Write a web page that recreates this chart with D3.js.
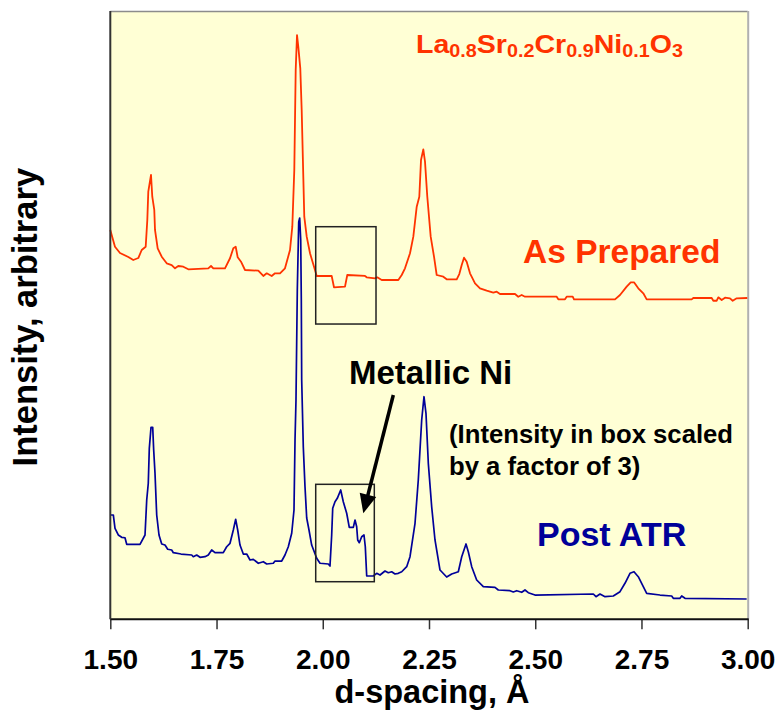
<!DOCTYPE html>
<html><head><meta charset="utf-8">
<script src="https://cdn.jsdelivr.net/npm/d3@7"></script>
<style>body{margin:0;background:#fff}svg{display:block}text{font-family:"Liberation Sans",Arial,sans-serif;font-weight:bold}</style>
</head><body>
<svg id="c" width="778" height="717"></svg>
<script>
// d-spacing (Å) and intensity (arbitrary) for the "As Prepared" pattern (offset upward)
const redD = [1.500,1.511,1.5228,1.5424,1.5541,1.5659,1.5739,1.5833,1.5871,1.5894,1.5958,1.5988,1.6035,1.6052,1.6115,1.6210,1.6327,1.6445,1.6523,1.6600,1.6718,1.6836,1.7306,1.7370,1.7424,1.7699,1.7817,1.7895,1.7951,1.7998,1.8076,1.8170,1.8483,1.8601,1.8681,1.8798,1.8876,1.8994,1.9111,1.9229,1.9283,1.9330,1.9363,1.9394,1.9424,1.9471,1.9504,1.9542,1.9565,1.9622,1.9700,1.9817,1.9857,2.0210,2.0264,2.0523,2.0577,2.0994,2.1034,2.1229,2.1283,2.1387,2.1778,2.1858,2.1935,2.2053,2.2131,2.2211,2.2272,2.2312,2.2366,2.2406,2.2460,2.2540,2.2618,2.2681,2.2837,2.2916,2.3152,2.3213,2.3270,2.3324,2.3387,2.3465,2.3583,2.3700,2.3858,2.4013,2.4093,2.4171,2.4524,2.4601,2.4681,2.4759,2.5505,2.5543,2.5700,2.5740,2.5882,2.5912,2.6877,2.6995,2.7152,2.7247,2.7324,2.7425,2.7543,2.7623,2.8682,2.8720,2.9153,2.9191,2.9271,2.9308,2.9388,2.9466,2.9583,2.9647,2.9741,2.9990];
const redI = [64.0,61.25,60.22,59.56,59.07,59.39,60.71,61.25,65.64,70.29,73.04,69.47,67.29,64.0,60.99,59.61,58.52,58.24,57.70,58.08,57.96,57.54,57.70,58.08,57.70,57.70,59.35,60.99,61.25,59.51,58.79,57.42,57.31,56.44,56.88,56.44,56.88,56.88,57.70,60.71,64.54,73.86,90.30,96.05,94.13,90.58,83.72,72.76,66.18,62.90,60.17,57.42,56.44,56.44,54.58,54.68,56.60,56.44,56.22,56.06,56.22,55.78,55.78,56.60,57.70,60.17,62.90,67.83,69.47,75.51,77.26,75.23,69.47,62.90,59.61,56.60,56.32,55.89,55.89,56.76,58.24,59.44,58.79,56.88,55.23,54.41,54.02,53.69,53.85,53.48,53.48,53.03,53.31,53.03,53.03,52.60,52.60,53.03,53.03,52.60,52.60,53.31,54.68,55.40,55.40,54.41,53.59,52.60,52.60,52.82,52.82,52.37,52.37,52.93,52.49,52.87,52.77,52.37,52.77,52.82];
// "Post ATR" pattern (box region 1.98-2.12 Å shown x3)
const blueD = [1.5016,1.5071,1.5111,1.5188,1.5268,1.5346,1.5386,1.5699,1.5817,1.5857,1.5894,1.5918,1.5958,1.5998,1.6021,1.6052,1.6092,1.6146,1.6210,1.6287,1.6351,1.6445,1.6483,1.6664,1.6916,1.6953,1.7033,1.7111,1.7229,1.7306,1.7386,1.7464,1.7659,1.7739,1.7817,1.7895,1.7951,1.7998,1.8052,1.8130,1.8210,1.8288,1.8365,1.8483,1.8601,1.8681,1.8836,1.8876,1.9034,1.9111,1.9189,1.9269,1.9323,1.9347,1.9370,1.9401,1.9434,1.9457,1.9481,1.9495,1.9504,1.9542,1.9582,1.9622,1.9676,1.9739,1.9857,1.9935,2.0130,2.0170,2.0210,2.0234,2.0288,2.0342,2.0422,2.0483,2.0563,2.0624,2.0719,2.0759,2.0798,2.0822,2.0860,2.0916,2.0970,2.1001,2.1034,2.1189,2.1269,2.1347,2.1465,2.1542,2.1622,2.1700,2.1778,2.1858,2.1975,2.2053,2.2171,2.2248,2.2328,2.2382,2.2429,2.2484,2.2563,2.2641,2.2759,2.2916,2.3034,2.3190,2.3270,2.3371,2.3425,2.3505,2.3622,2.3778,2.4053,2.4131,2.4406,2.4484,2.4564,2.4682,2.4759,2.4837,2.4994,2.6367,2.6430,2.6524,2.6642,2.6837,2.6995,2.7112,2.7230,2.7324,2.7425,2.7543,2.7623,2.7936,2.8211,2.8249,2.8407,2.8447,2.8524,2.9976];
const blueI = [17.15,17.15,14.96,13.86,13.48,13.41,12.33,12.33,13.86,19.61,22.36,28.11,31.56,31.56,27.83,24.0,17.15,13.86,12.38,12.21,11.51,11.39,10.95,10.73,10.57,10.29,10.57,10.19,10.29,10.57,11.39,10.95,10.95,11.93,12.49,14.68,16.44,14.68,12.21,10.73,10.73,9.75,9.86,9.21,9.47,9.09,9.21,9.58,9.58,10.57,11.93,14.14,17.97,29.48,36.05,54.13,65.31,65.97,62.35,52.49,39.34,28.32,21.80,16.65,14.68,12.21,10.03,9.21,9.09,8.76,13.86,18.25,19.33,19.89,21.26,19.33,17.43,15.12,15.12,16.32,15.22,13.04,12.59,13.58,13.86,11.93,7.12,7.12,7.56,7.28,7.94,7.66,7.82,7.45,7.56,7.82,8.65,10.29,15.78,22.90,32.76,36.59,33.86,25.64,18.51,13.04,8.10,6.95,7.45,7.82,10.29,12.38,11.11,8.65,6.46,5.36,5.26,4.82,4.70,4.49,4.70,4.44,4.82,4.37,3.99,4.16,3.72,4.16,3.72,3.83,4.54,5.92,7.56,7.82,7.00,5.36,4.27,3.99,3.83,3.45,3.45,3.83,3.45,3.34];
// scaled-region boxes [d0, d1, I0, I1]
const boxPrepared = [1.9834, 2.1253, 48.54, 64.54];
const boxPost = [1.9834, 2.1213, 6.18, 22.19];
// arrow "Metallic Ni" from / to [d, I]
const arrowFrom = [2.1660, 36.88];
const arrowTo = [2.0954, 17.43];
const xTicks = [1.50, 1.75, 2.00, 2.25, 2.50, 2.75, 3.00];
const formulaParts = [["La", "0.8"], ["Sr", "0.2"], ["Cr", "0.9"], ["Ni", "0.1"], ["O", "3"]];

const svg = d3.select("#c");
const L = 110.3, R = 747.7, T = 11, B = 619.3;
const x = d3.scaleLinear().domain([1.5, 3.0]).range([L, R]);
const y = d3.scaleLinear().domain([0, 100]).range([B, T]);

// plot background and frame
svg.append("rect").attr("x", L).attr("y", T).attr("width", R - L).attr("height", B - T).attr("fill", "#ffffd5");
svg.append("line").attr("x1", L).attr("x2", R).attr("y1", T + 0.5).attr("y2", T + 0.5).attr("stroke", "#8c8c8c").attr("stroke-width", 1.5);
svg.append("line").attr("x1", R + 0.5).attr("x2", R + 0.5).attr("y1", T).attr("y2", B).attr("stroke", "#b0b0b0").attr("stroke-width", 2);

// curves
const line = d3.line().x(d => x(d[0])).y(d => y(d[1]));
const red = redD.map((d, i) => [d, redI[i]]);
const blue = blueD.map((d, i) => [d, blueI[i]]);
svg.append("path").attr("d", line(red)).attr("fill", "none").attr("stroke", "#ff3300").attr("stroke-width", 1.8).attr("stroke-linejoin", "round");
svg.append("path").attr("d", line(blue)).attr("fill", "none").attr("stroke", "#000099").attr("stroke-width", 1.7).attr("stroke-linejoin", "round");

// boxes
[boxPrepared, boxPost].forEach(b => {
  svg.append("rect").attr("x", x(b[0])).attr("y", y(b[3])).attr("width", x(b[1]) - x(b[0])).attr("height", y(b[2]) - y(b[3]))
    .attr("fill", "none").attr("stroke", "#222").attr("stroke-width", 1.5);
});

// axes
const xAxis = d3.axisBottom(x).tickValues(xTicks).tickFormat(d3.format(".2f")).tickSize(10).tickPadding(20);
const gx = svg.append("g").attr("transform", `translate(0,${B})`).call(xAxis);
gx.select(".domain").remove();
gx.selectAll(".tick line").attr("stroke", "#333").attr("stroke-width", 1.5);
gx.selectAll(".tick text").attr("font-size", 28).attr("fill", "#000").attr("font-family", "Liberation Sans, Arial, sans-serif").attr("font-weight", "bold");
svg.append("line").attr("x1", L).attr("x2", R + 1).attr("y1", B).attr("y2", B).attr("stroke", "#111").attr("stroke-width", 2);
svg.append("line").attr("x1", L).attr("x2", L).attr("y1", T).attr("y2", B).attr("stroke", "#333").attr("stroke-width", 2);

// axis titles
svg.append("text").attr("x", (L + R) / 2 + 3).attr("y", 703).attr("text-anchor", "middle").attr("font-size", 32.5).attr("fill", "#000").text("d-spacing, Å");
svg.append("text").attr("transform", `translate(37,${(T + B) / 2 + 2}) rotate(-90)`).attr("text-anchor", "middle").attr("font-size", 34.5).attr("fill", "#000").text("Intensity, arbitrary");

// formula title
const ft = svg.append("text").attr("x", 416).attr("y", 53).attr("fill", "#ff3300");
formulaParts.forEach((p, i) => {
  ft.append("tspan").attr("font-size", 26).attr("dy", i === 0 ? 0 : -4).text(p[0]);
  ft.append("tspan").attr("font-size", 18).attr("dy", 4).text(p[1]);
});
ft.attr("textLength", 267).attr("lengthAdjust", "spacingAndGlyphs");

// labels
svg.append("text").attr("x", 523).attr("y", 263).attr("font-size", 33.5).attr("fill", "#ff3300").text("As Prepared");
svg.append("text").attr("x", 537).attr("y", 546).attr("font-size", 34).attr("fill", "#000099").text("Post ATR");
svg.append("text").attr("x", 349).attr("y", 384).attr("font-size", 33).attr("fill", "#000").text("Metallic Ni");
svg.append("text").attr("x", 449).attr("y", 443).attr("font-size", 25.7).attr("fill", "#000").text("(Intensity in box scaled");
svg.append("text").attr("x", 449).attr("y", 475).attr("font-size", 25.7).attr("fill", "#000").text("by a factor of 3)");

// arrow
const ax0 = x(arrowFrom[0]), ay0 = y(arrowFrom[1]), ax1 = x(arrowTo[0]), ay1 = y(arrowTo[1]);
const ang = Math.atan2(ay1 - ay0, ax1 - ax0);
const hl = 19, hw = 8.5;
const bx = ax1 - hl * Math.cos(ang), by = ay1 - hl * Math.sin(ang);
svg.append("line").attr("x1", ax0).attr("y1", ay0).attr("x2", bx + 3 * Math.cos(ang)).attr("y2", by + 3 * Math.sin(ang)).attr("stroke", "#000").attr("stroke-width", 3.5);
svg.append("path").attr("d", `M${ax1},${ay1} L${bx - hw * Math.sin(ang)},${by + hw * Math.cos(ang)} L${bx + hw * Math.sin(ang)},${by - hw * Math.cos(ang)} Z`).attr("fill", "#000");
</script>
</body></html>
